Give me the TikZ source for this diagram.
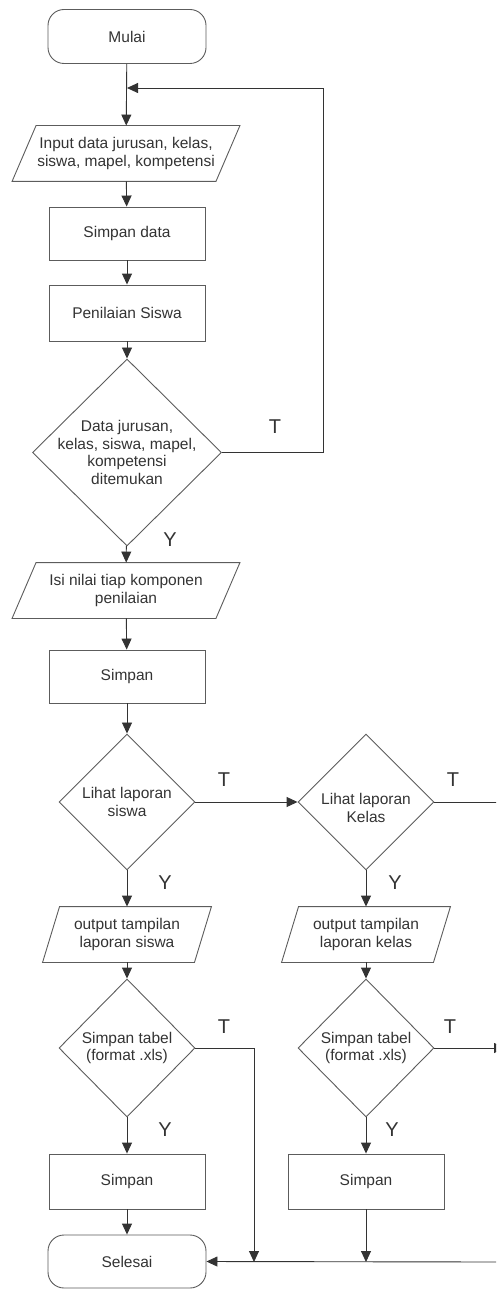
\documentclass[tikz,border=0pt]{standalone}
\usepackage{fontspec}
\setmainfont{Liberation Sans}
\usetikzlibrary{shapes.geometric,arrows.meta,calc}
\definecolor{ink}{HTML}{333333}
\definecolor{edge}{HTML}{5C5C5C}

\tikzset{
  base/.style={draw=edge, line width=0.9pt, text=ink,
    font=\fontsize{15.5}{17.5}\selectfont, align=center, inner sep=0pt},
  term/.style={base, rectangle, rounded corners=16pt, minimum width=158pt, minimum height=54pt},
  proc/.style={base, rectangle, minimum width=156pt, minimum height=#1},
  proc/.default=54pt,
  % input/output parallelogram: width at mid-height and horizontal skew
  io/.style n args={2}{base, draw=none, rectangle, minimum width=#1, minimum height=55pt,
    append after command={\pgfextra{\edef\iobase{\tikzlastnode}%
      \draw[draw=edge, line width=0.9pt]
        ($(\iobase.north west)+(#2,0)$) -- ($(\iobase.north east)+(#2,0)$) --
        ($(\iobase.south east)-(#2,0)$) -- ($(\iobase.south west)-(#2,0)$) -- cycle;}}},
  dec/.style n args={2}{base, diamond, minimum width=#1, minimum height=#2},
  txt/.style={text=ink, font=\fontsize{15.5}{17.5}\selectfont, align=center, inner sep=0pt},
  yt/.style={text=ink, font=\fontsize{20}{20}\selectfont, inner sep=0pt},
  link/.style={draw=ink, line width=0.9pt},
  flow/.style={link, -{Triangle[length=11pt,width=10pt]}}
}

\begin{document}
\begin{tikzpicture}[x=1pt, y=-1pt]
\useasboundingbox (0,0) rectangle (496,1289);
\clip (0,0) rectangle (496,1289);

% left column
\node[term] (start) at (127,36.5) {Mulai};
\node[io={203pt}{12pt}] (in1) at (126,153.5) {Input data jurusan, kelas,\\siswa, mapel, kompetensi};
\node[proc=53pt] (sd) at (127,233.5) {Simpan data};
\node[proc=56pt] (pen) at (127,313) {Penilaian Siswa};
\node[dec={189pt}{187pt}] (d1) at (127,452.5) {};
\node[txt] (d1t) at (d1) {Data jurusan,\\kelas, siswa, mapel,\\kompetensi\\ditemukan};
\node[io={203pt}{12pt}] (isi) at (126,590.5) {Isi nilai tiap komponen\\penilaian};
\node[proc=53pt] (s1) at (127,676.5) {Simpan};
\node[dec={136pt}{136pt}] (d2) at (127,802) {};
\node[txt] (d2t) at (d2) {Lihat laporan\\siswa};
\node[io={151pt}{8.5pt}] (o1) at (127,934.5) {output tampilan\\laporan siswa};
\node[dec={136pt}{138pt}] (d4) at (127,1048) {};
\node[txt] (d4t) at (d4) {Simpan tabel\\(format .xls)};
\node[proc=55pt] (s2) at (127,1181.5) {Simpan};
\node[term, minimum height=53pt] (end) at (127,1261.5) {Selesai};

% right column
\node[dec={136pt}{136pt}] (d3) at (366,802) {};
\node[txt] (d3t) at ($(d3)+(0,6)$) {Lihat laporan\\Kelas};
\node[io={151pt}{8.5pt}] (o2) at (366,934.5) {output tampilan\\laporan kelas};
\node[dec={136pt}{138pt}] (d5) at (366,1048) {};
\node[txt] (d5t) at (d5) {Simpan tabel\\(format .xls)};
\node[proc=55pt] (s3) at (366,1181.5) {Simpan};

% branch labels
\node[yt] (t1) at (275,427) {T};
\node[yt] (y1) at (170,540) {Y};
\node[yt] (t2) at (224,780) {T};
\node[yt] (t3) at (453,780) {T};
\node[yt] (y2) at (165,883) {Y};
\node[yt] (y3) at (395,883) {Y};
\node[yt] (t4) at (224,1027) {T};
\node[yt] (t5) at (450,1027) {T};
\node[yt] (y4) at (165,1130) {Y};
\node[yt] (y5) at (392,1130) {Y};

% junction points
\coordinate (join) at (127,88);
\coordinate (loop) at (323,88);
\coordinate (r1) at (500,802);
\coordinate (c4) at (254,1048);
\coordinate (c4b) at (254,1262);
\coordinate (r2) at (505,1048);
\coordinate (r3) at (500,1262);
\coordinate (c3) at (366,1262);

% main flow
\draw[flow] (start) -- (in1);
\draw[flow] (in1) -- (sd);
\draw[flow] (sd) -- (pen);
\draw[flow] (pen) -- (d1);
\draw[flow] (d1) -- (isi);
\draw[flow] (d1.east) -| (loop) -- (join);
\draw[flow] (isi) -- (s1);
\draw[flow] (s1) -- (d2);
\draw[flow] (d2) -- (d3);
\draw[flow] (d2) -- (o1);
\draw[flow] (d3) -- (o2);
\draw[link] (d3.east) -- (r1);
\draw[flow] (o1) -- (d4);
\draw[flow] (o2) -- (d5);
\draw[flow] (d4) -- (s2);
\draw[flow] (d5) -- (s3);
\draw[flow] (d4.east) -- (c4) -- (c4b);
\draw[flow] (d5.east) -- (r2);
\draw[flow] (s2) -- (end);
\draw[flow] (s3) -- (c3);
\draw[flow] (r3) -- (end.east);
\end{tikzpicture}
\end{document}
